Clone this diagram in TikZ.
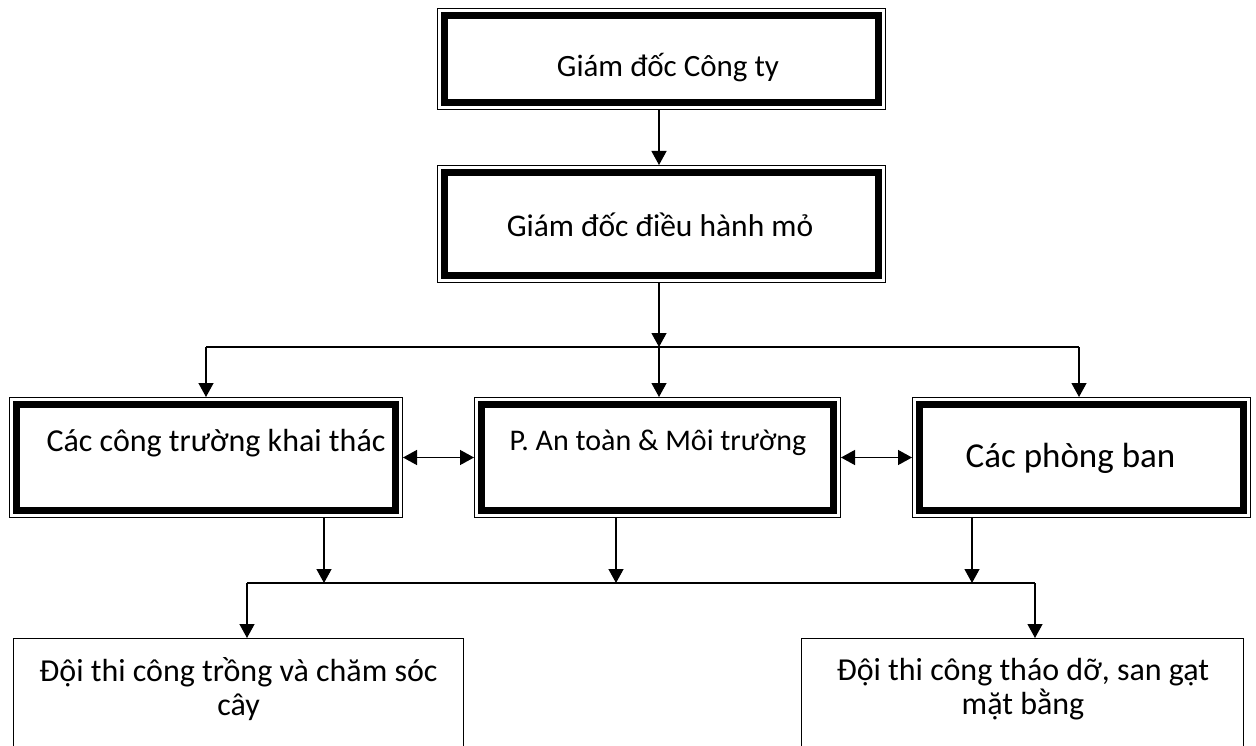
\documentclass[tikz,border=0pt]{standalone}
\usepackage{fontspec}
\setmainfont{Carlito}
\usetikzlibrary{arrows.meta}
\begin{document}
\begin{tikzpicture}[x=1pt,y=-1pt,
  dbox/.style={draw, line width=1pt, inner sep=0pt,
    path picture={\draw[line width=7pt]
      ([shift={(7pt,-7pt)}]path picture bounding box.north west) rectangle
      ([shift={(-7pt,7pt)}]path picture bounding box.south east);}},
  sbox/.style={draw, line width=1.3pt, inner sep=0pt},
  txt/.style={inner sep=0pt, align=center},
  arr/.style={line width=1.3pt, -{Triangle[width=15pt,length=14pt]}},
  arrtwo/.style={line width=1.3pt, {Triangle[width=15pt,length=14pt]}-{Triangle[width=15pt,length=14pt]}},
  bus/.style={line width=1.3pt}]
\clip (0,0) rectangle (1256,746);
\fill[white] (0,0) rectangle (1256,746);

% boxes
\node[dbox, minimum width=448pt, minimum height=101pt] (b1) at (661.5,59) {};
\node[dbox, minimum width=448pt, minimum height=117pt] (b2) at (661.5,224) {};
\node[dbox, minimum width=393pt, minimum height=120pt] (b3) at (206,457.5) {};
\node[dbox, minimum width=366pt, minimum height=120pt] (b4) at (657.5,457.5) {};
\node[dbox, minimum width=338pt, minimum height=120pt] (b5) at (1081.5,457.5) {};
\node[sbox, minimum width=450pt, minimum height=130pt, anchor=north west] (b6) at (13,638) {};
\node[sbox, minimum width=442pt, minimum height=130pt, anchor=north west] (b7) at (801,638) {};

% texts
\node[txt, font=\fontsize{31}{37}\selectfont] (t1) at (668,68) {Giám đốc Công ty};
\node[txt, font=\fontsize{31.5}{37}\selectfont] (t2) at (660,225) {Giám đốc điều hành mỏ};
\node[txt, font=\fontsize{32}{37}\selectfont] (t3) at (216,443) {Các công trường khai thác};
\node[txt, font=\fontsize{30}{36}\selectfont] (t4) at (658,443) {P. An toàn \& Môi trường};
\node[txt, font=\fontsize{35}{41}\selectfont] (t5) at (1070.5,458) {Các phòng ban};
\node[txt, font=\fontsize{32}{34}\selectfont] (t6) at (238.5,689) {Đội thi công trồng và chăm sóc\\cây};
\node[txt, font=\fontsize{32}{34}\selectfont] (t7) at (1023,689) {Đội thi công tháo dỡ, san gạt\\mặt bằng};

% upper connectors
\coordinate (busL) at (206,347);
\coordinate (busM) at (659,347);
\coordinate (busR) at (1079,347);
\draw[arr] ([xshift=-2.5pt]b1.south) -- ([xshift=-2.5pt]b2.north);
\draw[arr] ([xshift=-2.5pt]b2.south) -- (busM);
\draw[bus] (busL) -- (busR);
\draw[arr] (busL) -- (busL |- b3.north);
\draw[arr] (busM) -- (busM |- b4.north);
\draw[arr] (busR) -- (busR |- b5.north);
\draw[arrtwo] (b3.east) -- (b4.west);
\draw[arrtwo] (b4.east) -- (b5.west);

% lower connectors
\coordinate (lbL) at (247,583);
\coordinate (lbR) at (1035,583);
\coordinate (lb3) at (324,583);
\coordinate (lb4) at (616,583);
\coordinate (lb5) at (972,583);
\draw[arr] (lb3 |- b3.south) -- (lb3);
\draw[arr] (lb4 |- b4.south) -- (lb4);
\draw[arr] (lb5 |- b5.south) -- (lb5);
\draw[bus] (lbL) -- (lbR);
\draw[arr] (lbL) -- (lbL |- b6.north);
\draw[arr] (lbR) -- (lbR |- b7.north);
\end{tikzpicture}
\end{document}
